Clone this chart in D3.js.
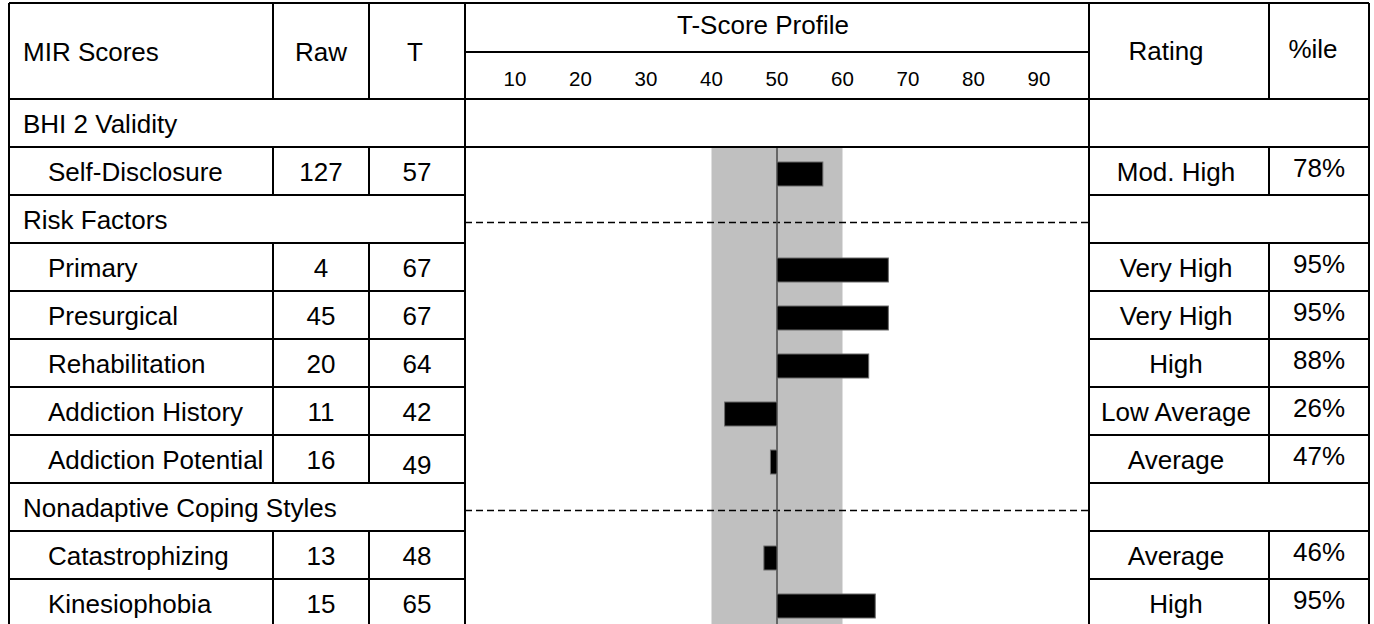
<!DOCTYPE html>
<html>
<head>
<meta charset="utf-8">
<script src="https://cdn.jsdelivr.net/npm/d3@7"></script>
<style>
  body { margin: 0; background: #fff; }
  text { font-family: "Liberation Sans", Arial, Helvetica, sans-serif; fill: #000; }
</style>
</head>
<body>
<svg id="chart"></svg>
<script>
// Rows of the MIR score table (null = section heading row)
const rowLabels = [
  "BHI 2 Validity", "Self-Disclosure",
  "Risk Factors", "Primary", "Presurgical", "Rehabilitation",
  "Addiction History", "Addiction Potential",
  "Nonadaptive Coping Styles", "Catastrophizing", "Kinesiophobia"
];
const rawScores = [null, 127, null, 4, 45, 20, 11, 16, null, 13, 15];
const tScores = [null, 57, null, 67, 67, 64, 42, 49, null, 48, 65];
const ratings = [null, "Mod. High", null, "Very High", "Very High", "High",
  "Low Average", "Average", null, "Average", "High"];
const percentiles = [null, "78%", null, "95%", "95%", "88%", "26%", "47%", null, "46%", "95%"];
const headers = ["MIR Scores", "Raw", "T", "T-Score Profile", "Rating", "%ile"];
const tickValues = [10, 20, 30, 40, 50, 60, 70, 80, 90];
const averageBand = [40, 60];
const meanT = 50;

const width = 1374;
const height = 624;

// column edges
const colLeft = 9, colRaw = 273, colT = 369, colChart = 465, colRating = 1089, colPct = 1269, colRight = 1369;
const tableTop = 3, headerMid = 52, headerBottom = 99, rowH = 48;

const svg = d3.select("#chart").attr("width", width).attr("height", height);

const yScale = d3.scaleBand()
  .domain(d3.range(rowLabels.length))
  .range([headerBottom, headerBottom + rowH * rowLabels.length]);

const xScale = d3.scaleLinear().domain([0, 100]).range([449.5, 1104.5]);

const isSection = (i) => rawScores[i] === null;
const tableBottom = yScale.range()[1];

// --- chart column background ---
const plot = svg.append("g");

plot.append("rect")
  .attr("x", xScale(averageBand[0]))
  .attr("y", yScale(1))
  .attr("width", xScale(averageBand[1]) - xScale(averageBand[0]))
  .attr("height", tableBottom - yScale(1))
  .attr("fill", "#c0c0c0");

// dashed guide on section rows (except the first)
rowLabels.forEach((d, i) => {
  if (!isSection(i) || i === 0) return;
  const y = Math.round(yScale(i) + rowH / 2 + 3) + 0.5;
  plot.append("line")
    .attr("x1", colChart).attr("x2", colRating)
    .attr("y1", y).attr("y2", y)
    .attr("stroke", "#000")
    .attr("stroke-width", 1.3)
    .attr("stroke-dasharray", "7,4");
});

plot.append("line")
  .attr("x1", xScale(meanT)).attr("x2", xScale(meanT))
  .attr("y1", yScale(1)).attr("y2", tableBottom)
  .attr("stroke", "#505050")
  .attr("stroke-width", 1.6);

// bars from the mean
plot.selectAll("rect.bar")
  .data(tScores.map((t, i) => ({ t, i })).filter((d) => d.t !== null))
  .enter()
  .append("rect")
  .attr("class", "bar")
  .attr("x", (d) => Math.min(xScale(d.t), xScale(meanT)))
  .attr("y", (d) => yScale(d.i) + 15)
  .attr("width", (d) => Math.abs(xScale(d.t) - xScale(meanT)))
  .attr("height", 24)
  .attr("fill", "#000")
  .attr("stroke", "#6a6a6a")
  .attr("stroke-width", 1);

// --- grid lines ---
const grid = svg.append("g").attr("stroke", "#000").attr("stroke-width", 2);
const hline = (x1, x2, y) => grid.append("line").attr("x1", x1).attr("x2", x2).attr("y1", y).attr("y2", y);
const vline = (x, y1, y2) => grid.append("line").attr("x1", x).attr("x2", x).attr("y1", y1).attr("y2", y2);

hline(colLeft, colRight, tableTop);
hline(colChart, colRating, headerMid);
hline(colLeft, colRight, headerBottom);
hline(colChart, colRating, yScale(1));

rowLabels.forEach((d, i) => {
  const y1 = yScale(i), y2 = y1 + rowH;
  hline(colLeft, colChart, y2);
  hline(colRating, colRight, y2);
  if (!isSection(i)) {
    vline(colRaw, y1, y2);
    vline(colT, y1, y2);
    vline(colPct, y1, y2);
  }
});

vline(colRaw, tableTop, headerBottom);
vline(colT, tableTop, headerBottom);
vline(colPct, tableTop, headerBottom);
vline(colLeft, tableTop, tableBottom);
vline(colChart, tableTop, tableBottom);
vline(colRating, tableTop, tableBottom);
vline(colRight, tableTop, tableBottom);

// --- header text ---
const txt = svg.append("g").style("font-size", "26px");
const headerY = 61;
txt.append("text").attr("x", 23).attr("y", headerY).text(headers[0]);
txt.append("text").attr("x", (colRaw + colT) / 2).attr("y", headerY).attr("text-anchor", "middle").text(headers[1]);
txt.append("text").attr("x", (colT + colChart) / 2 - 2).attr("y", headerY).attr("text-anchor", "middle").text(headers[2]);
txt.append("text").attr("x", 763).attr("y", 34).attr("text-anchor", "middle").text(headers[3]);
txt.append("text").attr("x", 1166).attr("y", headerY - 1).attr("text-anchor", "middle").text(headers[4]);
txt.append("text").attr("x", 1313).attr("y", headerY - 3).attr("text-anchor", "middle").text(headers[5]);

svg.append("g")
  .selectAll("text")
  .data(tickValues)
  .enter()
  .append("text")
  .attr("x", (d) => xScale(d))
  .attr("y", 86)
  .attr("text-anchor", "middle")
  .style("font-size", "20.5px")
  .text((d) => d);

// --- row text ---
rowLabels.forEach((label, i) => {
  const base = yScale(i) + 34;
  if (isSection(i)) {
    txt.append("text").attr("x", 23).attr("y", base).text(label);
    return;
  }
  txt.append("text").attr("x", 48).attr("y", base).text(label);
  txt.append("text").attr("x", (colRaw + colT) / 2).attr("y", base)
    .attr("text-anchor", "middle").text(rawScores[i]);
  txt.append("text").attr("x", (colT + colChart) / 2).attr("y", base + (i === 7 ? 5 : 0))
    .attr("text-anchor", "middle").text(tScores[i]);
  txt.append("text").attr("x", 1176).attr("y", base)
    .attr("text-anchor", "middle").text(ratings[i]);
  txt.append("text").attr("x", 1319).attr("y", base - 4)
    .attr("text-anchor", "middle").text(percentiles[i]);
});
</script>
</body>
</html>
